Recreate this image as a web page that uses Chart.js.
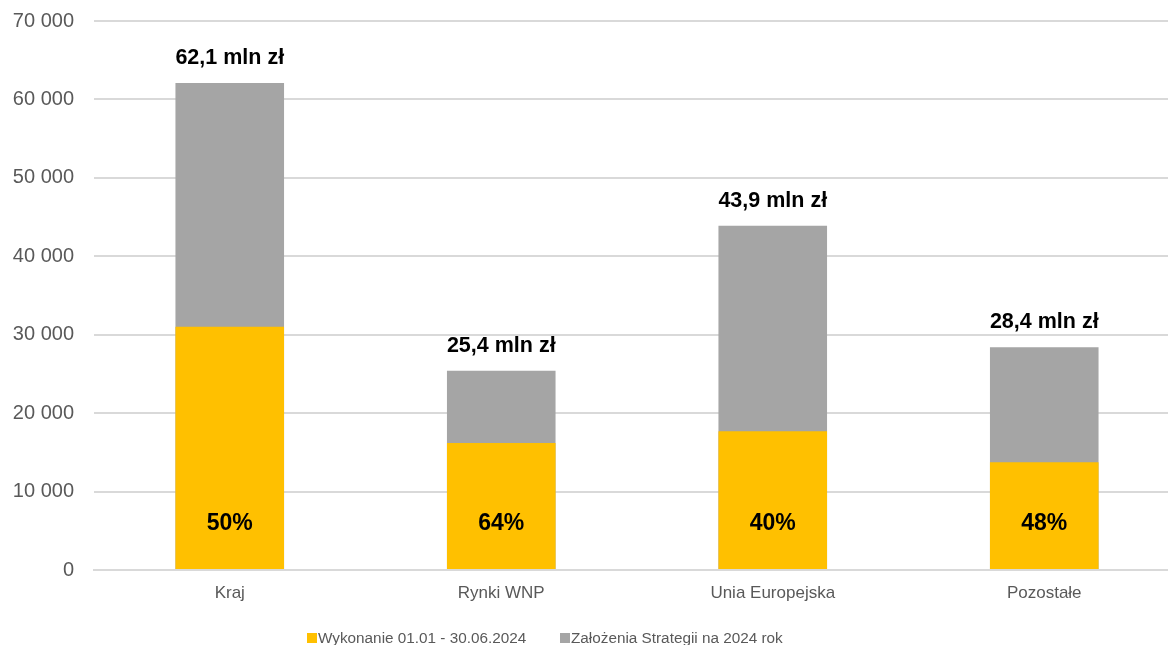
<!DOCTYPE html>
<html>
<head>
<meta charset="utf-8">
<script src="https://cdn.jsdelivr.net/npm/chart.js@4"></script>
<style>
  html, body { margin: 0; padding: 0; background: #fff; }
  #wrap { width: 1168px; height: 645px; overflow: hidden; position: relative; }
</style>
</head>
<body>
<div id="wrap">
  <canvas id="chart" width="1180" height="660"></canvas>
</div>
<script>
// data (tys. zł)
const categories = ['Kraj', 'Rynki WNP', 'Unia Europejska', 'Pozostałe'];
const executed = [31000, 16200, 17700, 13750];
const planned = [62100, 25400, 43900, 28400];
const totalLabels = ['62,1 mln zł', '25,4 mln zł', '43,9 mln zł', '28,4 mln zł'];
const percentLabels = ['50%', '64%', '40%', '48%'];
const yTicks = [0, 10000, 20000, 30000, 40000, 50000, 60000, 70000];

const FONT = '"Liberation Sans", Arial, sans-serif';

// labels above bars / inside the yellow part + legend at the bottom
const labelsPlugin = {
    id: 'labels',
    afterDatasetsDraw(chart) {
        const ctx = chart.ctx;
        const y = chart.scales.y;
        const metaPlan = chart.getDatasetMeta(1);
        const metaExec = chart.getDatasetMeta(0);
        ctx.save();
        ctx.textAlign = 'center';
        ctx.textBaseline = 'middle';
        ctx.fillStyle = '#000';

        ctx.font = 'bold 21.5px ' + FONT;
        metaPlan.data.forEach((bar, i) => {
            ctx.fillText(totalLabels[i], bar.x, bar.y - 25);
        });

        ctx.font = 'bold 23px ' + FONT;
        metaExec.data.forEach((bar, i) => {
            ctx.fillText(percentLabels[i], bar.x, y.getPixelForValue(0) - 46);
        });

        // legend
        const items = [
            { x: 307, color: '#FFC000', text: chart.data.datasets[0].label },
            { x: 560, color: '#A5A5A5', text: chart.data.datasets[1].label }
        ];
        ctx.font = '15.3px ' + FONT;
        ctx.textAlign = 'left';
        ctx.textBaseline = 'alphabetic';
        items.forEach(it => {
            ctx.fillStyle = it.color;
            ctx.fillRect(it.x, 633, 10, 10);
            ctx.fillStyle = '#595959';
            ctx.fillText(it.text, it.x + 11, 643);
        });
        ctx.restore();
    }
};

new Chart(document.getElementById('chart'), {
    type: 'bar',
    data: {
        labels: categories,
        datasets: [
            {
                label: 'Wykonanie 01.01 - 30.06.2024',
                data: executed,
                backgroundColor: '#FFC000',
                borderWidth: 0
            },
            {
                label: 'Założenia Strategii na 2024 rok',
                data: planned,
                backgroundColor: '#A5A5A5',
                borderWidth: 0
            }
        ]
    },
    options: {
        responsive: false,
        animation: false,
        devicePixelRatio: 1,
        categoryPercentage: 0.4,
        barPercentage: 1,
        layout: { padding: { top: 21, bottom: 48, left: 0, right: 0 } },
        plugins: {
            legend: { display: false },
            tooltip: { enabled: false }
        },
        scales: {
            x: {
                stacked: true,
                grid: { display: false, drawTicks: false },
                border: { color: '#D9D9D9', width: 2 },
                ticks: {
                    color: '#595959',
                    font: { family: FONT, size: 17 },
                    padding: 13
                },
                afterFit(scale) { scale.height = 42; }
            },
            y: {
                stacked: false,
                min: 0,
                max: 70000,
                afterBuildTicks(scale) {
                    scale.ticks = yTicks.map(v => ({ value: v }));
                },
                grid: { color: '#D9D9D9', lineWidth: 2, drawTicks: false },
                border: { display: false },
                ticks: {
                    color: '#595959',
                    font: { family: FONT, size: 20 },
                    padding: 20,
                    callback: v => v === 0 ? '0' : String(v).replace(/\B(?=(\d{3})+(?!\d))/g, ' ')
                },
                afterFit(scale) {
                    scale.width = 94;
                    scale.paddingTop = 0;
                    scale.paddingBottom = 0;
                }
            }
        }
    },
    plugins: [labelsPlugin]
});
</script>
</body>
</html>
